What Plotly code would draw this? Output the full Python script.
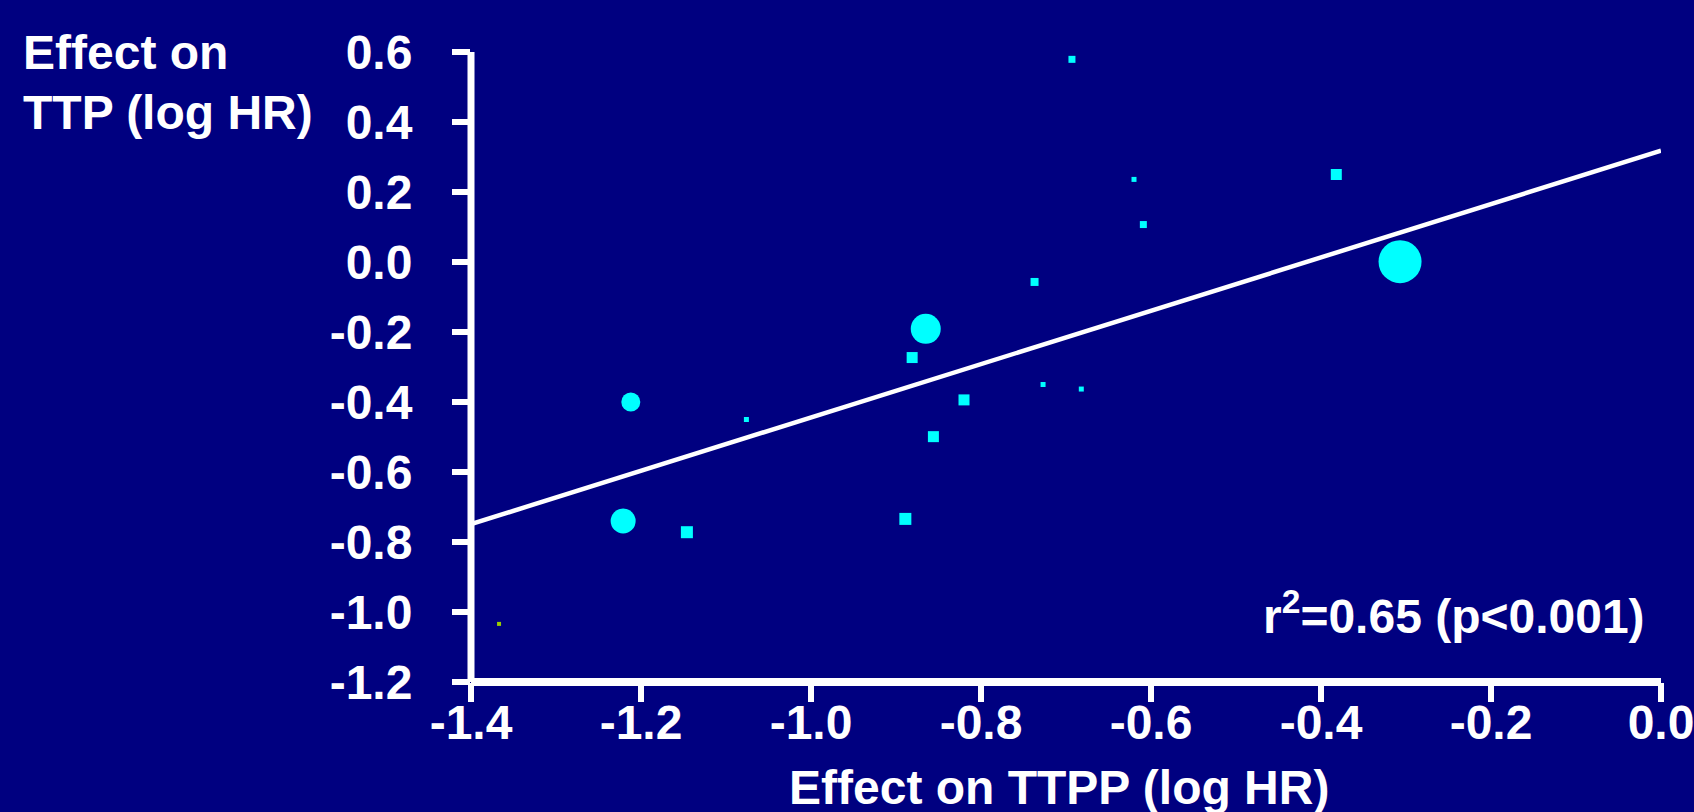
import plotly.graph_objects as go

# ---- data ----
ttpp_loghr = [-0.693, -0.620, -0.609, -0.382, -0.307, -0.737, -0.865, -0.881, -0.727,
              -0.682, -0.820, -0.856, -1.212, -1.076, -1.221, -1.146, -0.889, -1.367]
ttp_loghr = [0.579, 0.236, 0.107, 0.250, 0.001, -0.057, -0.191, -0.273, -0.350,
             -0.363, -0.394, -0.499, -0.400, -0.450, -0.740, -0.772, -0.734, -1.034]
study_weight = [7, 5, 7, 11, 43, 8, 30, 11, 5, 5, 11, 11, 19, 5, 25, 12, 12, 4]
point_group = ["trial"] * 17 + ["other"]

fit_x = [-1.4, 0.0]
fit_y = [-0.749, 0.318]

x_ticks = [-1.4, -1.2, -1.0, -0.8, -0.6, -0.4, -0.2, 0.0]
x_tick_labels = ["-1.4", "-1.2", "-1.0", "-0.8", "-0.6", "-0.4", "-0.2", "0.0"]
y_ticks = [0.6, 0.4, 0.2, 0.0, -0.2, -0.4, -0.6, -0.8, -1.0, -1.2]
y_tick_labels = ["0.6", "0.4", "0.2", "0.0", "-0.2", "-0.4", "-0.6", "-0.8", "-1.0", "-1.2"]

stat_text = "r<sup>2</sup>=0.65 (p<0.001)"
x_title = "Effect on TTPP (log HR)"
y_title_lines = ["Effect on", "TTP (log HR)"]

# ---- style ----
BG = "#000080"
CYAN = "#00ffff"
LIME = "#9acd00"
WHITE = "#ffffff"
FONT = "Liberation Sans, Arial, sans-serif"
FS = 48

W, H = 1694, 812
ML, MR, MT, MB = 471, 33, 52, 130
PW, PH = W - ML - MR, H - MT - MB


def px_x(px):
    return (px - ML) / PW


def px_y(py):
    return (H - MB - py) / PH


colors = [CYAN if g == "trial" else LIME for g in point_group]
symbols = ["circle" if s >= 14 else "square" for s in study_weight]

fig = go.Figure()
fig.add_trace(go.Scatter(
    x=fit_x, y=fit_y, mode="lines",
    line=dict(color=WHITE, width=4.5),
    hoverinfo="skip", showlegend=False,
))
fig.add_trace(go.Scatter(
    x=ttpp_loghr, y=ttp_loghr, mode="markers",
    marker=dict(size=study_weight, color=colors, symbol=symbols, opacity=1,
                line=dict(width=0)),
    showlegend=False,
))

tickfont = dict(family=FONT, size=FS, color=WHITE, weight="bold")

fig.update_xaxes(
    range=[-1.4, 0.0], tickvals=x_ticks, ticktext=x_tick_labels,
    showgrid=False, zeroline=False, showline=False,
    ticks="outside", ticklen=19, tickwidth=6, tickcolor=WHITE,
    tickfont=tickfont, ticklabelstandoff=-21, ticklabeloverflow="allow",
    automargin=False,
)
fig.update_yaxes(
    range=[-1.2, 0.6], tickvals=y_ticks, ticktext=y_tick_labels,
    showgrid=False, zeroline=False, showline=False,
    ticks="outside", ticklen=18, tickwidth=6, tickcolor=WHITE,
    tickfont=tickfont, ticklabelstandoff=30, ticklabeloverflow="allow",
    automargin=False,
)

# axis lines
fig.add_shape(type="line", xref="paper", yref="paper", x0=0, x1=0, y0=0, y1=1,
              line=dict(color=WHITE, width=7), layer="above")
fig.add_shape(type="line", xref="paper", yref="paper", x0=0, x1=1, y0=0, y1=0,
              line=dict(color=WHITE, width=8), layer="above")

txt = dict(family=FONT, size=FS, color=WHITE, weight="bold")
annotations = [
    dict(text=y_title_lines[0], x=px_x(21), y=px_y(52), xanchor="left", yanchor="middle"),
    dict(text=y_title_lines[1], x=px_x(21), y=px_y(112), xanchor="left", yanchor="middle"),
    dict(text=x_title, x=px_x(787), y=px_y(787), xanchor="left", yanchor="middle"),
    dict(text=stat_text, x=px_x(1647), y=px_y(613), xanchor="right", yanchor="middle"),
]
for a in annotations:
    fig.add_annotation(xref="paper", yref="paper", showarrow=False, font=txt, **a)

fig.update_layout(
    width=W, height=H,
    margin=dict(l=ML, r=MR, t=MT, b=MB, pad=0),
    paper_bgcolor=BG, plot_bgcolor=BG,
    template="none",
    showlegend=False,
)

fig.write_html(
    "out.html",
    config={"displayModeBar": False},
    post_script=(
        "document.body.style.margin='0';"
        "document.body.style.padding='0';"
        "document.body.style.overflow='hidden';"
        "document.body.style.background='" + BG + "';"
    ),
)
